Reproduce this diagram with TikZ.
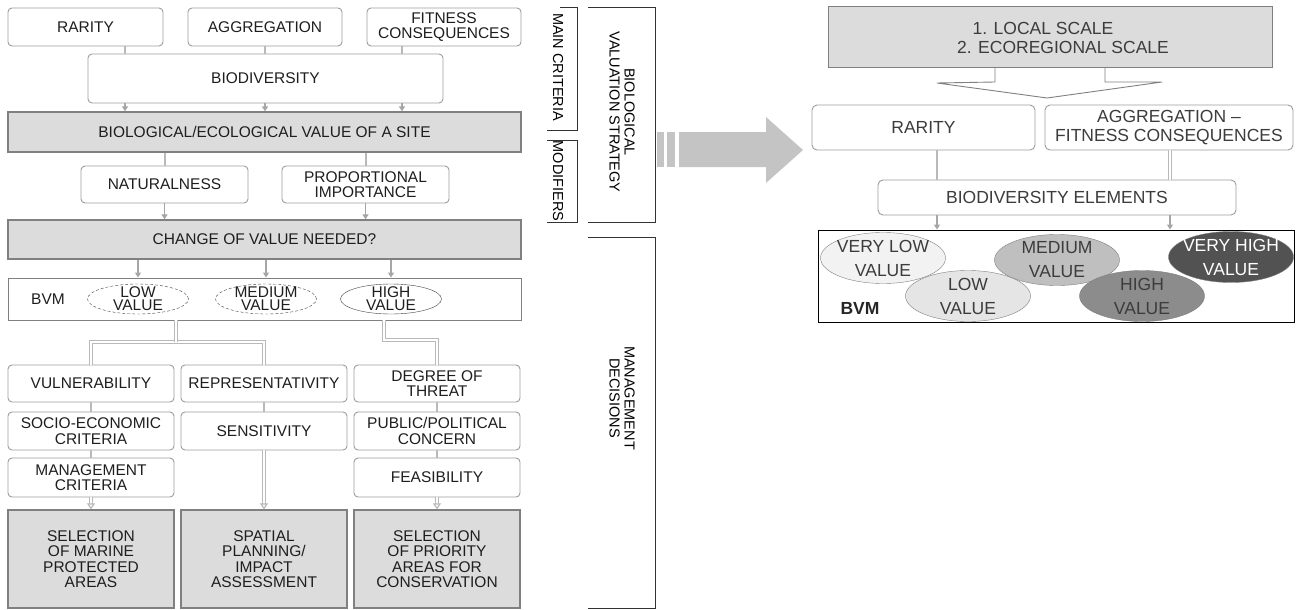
\documentclass[tikz,border=0pt]{standalone}
\usepackage{fontspec}
\setmainfont{Liberation Sans}
\usetikzlibrary{positioning,calc,arrows.meta,shapes.geometric}
\newcommand{\lpfont}{\fontsize{15.5}{15.5}\selectfont}
\newcommand{\elfont}{\fontsize{15.5}{13}\selectfont}
\newcommand{\rpfont}{\fontsize{17.5}{19}\selectfont}
\newcommand{\reffont}{\fontsize{17.5}{24}\selectfont}
\newcommand{\tagfont}{\fontsize{14.5}{15}\selectfont}
\definecolor{edge}{HTML}{9C9C9C}
\definecolor{panel}{HTML}{DCDCDC}
\definecolor{ink}{HTML}{1E1E1E}
\definecolor{rink}{HTML}{3C3C3C}
\definecolor{bigarrow}{HTML}{C4C4C4}
\tikzstyle{box} = [draw=edge, line width=0.9pt, rounded corners=4pt, fill=white, align=center, font=\lpfont, text=ink, inner sep=1pt]
\tikzstyle{gbox} = [draw=gray, line width=1.3pt, fill=panel, align=center, font=\lpfont, text=ink, inner sep=1pt]
\tikzstyle{bvmbox} = [draw=gray, line width=0.9pt, inner sep=0pt]
\tikzstyle{val} = [draw=black!75, ellipse, inner sep=0pt, minimum width=101, minimum height=30]
\tikzstyle{vtext} = [font=\elfont, text=ink, align=center]
\tikzstyle{rbox} = [draw=edge, line width=0.9pt, rounded corners=5pt, fill=white, align=center, font=\rpfont, text=rink, inner sep=1pt]
\tikzstyle{rval} = [draw=gray, ellipse, inner sep=0pt, minimum width=125, minimum height=51]
\tikzstyle{rtext} = [font=\reffont, text=rink, align=center]
\tikzstyle{flow} = [-{Triangle[width=6pt,length=5pt]}, draw=gray!70, line width=1.5pt]
\tikzstyle{stub} = [draw=gray!55, line width=2pt]
\tikzstyle{dbl} = [draw=gray!55, double=white, double distance=1.5pt, line width=1.2pt]
\tikzstyle{dblto} = [dbl, -{Triangle[open,width=8pt,length=6pt]}]
\tikzstyle{tag} = [rotate=-90, font=\tagfont, align=center]
\tikzstyle{brace} = [draw=black!80, line width=0.8pt]

\begin{document}
\begin{tikzpicture}[auto, x=1pt, y=-1pt]
\useasboundingbox (0,0) rectangle (1296,610);
% left panel
\node (rar) [box, minimum width=155, minimum height=38] at (85.5,27) {RARITY};
\node (agg) [box, minimum width=154, minimum height=38] at (265,27) {AGGREGATION};
\node (fit) [box, minimum width=154, minimum height=38] at (444,27) {FITNESS\\CONSEQUENCES};
\node (bio) [box, minimum width=355, minimum height=49] at (265.5,78.5) {BIODIVERSITY};
\node (val) [gbox, minimum width=513, minimum height=40] at (264.5,132) {BIOLOGICAL/ECOLOGICAL VALUE OF A SITE};
\node (nat) [box, minimum width=167, minimum height=37] at (164.5,184.5) {NATURALNESS};
\node (prop) [box, minimum width=167, minimum height=37] at (365.5,184.5) {PROPORTIONAL\\IMPORTANCE};
\node (chg) [gbox, minimum width=513, minimum height=39] at (264.5,239.5) {CHANGE OF VALUE NEEDED?};
\node (bvm) [bvmbox, minimum width=513, minimum height=42] at (264.5,299) {};
\node (bvmt) [font=\lpfont, text=ink] at (48,299) {BVM};
\node (low) [val, densely dashed, label={[vtext]center:{LOW\\VALUE}}] at (138,299) {};
\node (med) [val, densely dashed, label={[vtext]center:{MEDIUM\\VALUE}}] at (266,299) {};
\node (high) [val, label={[vtext]center:{HIGH\\VALUE}}] at (391,299) {};
\node (vul) [box, minimum width=166, minimum height=37] at (91,383.5) {VULNERABILITY};
\node (rep) [box, minimum width=166, minimum height=37] at (264,383.5) {REPRESENTATIVITY};
\node (deg) [box, minimum width=166, minimum height=37] at (437,383.5) {DEGREE OF\\THREAT};
\node (soc) [box, minimum width=166, minimum height=38] at (91,431) {SOCIO-ECONOMIC\\CRITERIA};
\node (sen) [box, minimum width=166, minimum height=38] at (264,431) {SENSITIVITY};
\node (pub) [box, minimum width=166, minimum height=38] at (437,431) {PUBLIC/POLITICAL\\CONCERN};
\node (man) [box, minimum width=166, minimum height=39] at (91,477.5) {MANAGEMENT\\CRITERIA};
\node (fea) [box, minimum width=166, minimum height=39] at (437,477.5) {FEASIBILITY};
\node (mpa) [gbox, minimum width=166, minimum height=98] at (91,559) {SELECTION\\OF MARINE\\PROTECTED\\AREAS};
\node (spa) [gbox, minimum width=166, minimum height=98] at (264,559) {SPATIAL\\PLANNING/\\IMPACT\\ASSESSMENT};
\node (pri) [gbox, minimum width=166, minimum height=98] at (437,559) {SELECTION\\OF PRIORITY\\AREAS FOR\\CONSERVATION};
\coordinate (k1) at (125,0);
\coordinate (k2) at (265,0);
\coordinate (k3) at (402,0);
\coordinate (j1) at (176,342);
\coordinate (j2) at (384,340);
\draw[stub] (rar.south -| k1) -- (bio.north -| k1);
\draw[stub] (agg.south -| k2) -- (bio.north -| k2);
\draw[stub] (fit.south -| k3) -- (bio.north -| k3);
\foreach \k in {k1,k2,k3} \draw[flow] (bio.south -| \k) -- (val.north -| \k);
\draw[stub] (val.south -| nat) -- (nat.north);
\draw[stub] (val.south -| prop) -- (prop.north);
\draw[flow] (nat) -- (nat |- chg.north);
\draw[flow] (prop) -- (prop |- chg.north);
\foreach \v in {low,med,high} \draw[flow] (chg.south -| \v) -- (bvm.north -| \v);
\draw[dbl] (vul.north) -- (vul.north |- j1) -- (rep.north |- j1) -- (rep.north);
\draw[dbl] (j1 |- bvm.south) -- (j1);
\draw[dbl] (j2 |- bvm.south) -- (j2) -- (deg.north |- j2) -- (deg.north);
\draw[stub] (vul) -- (soc);
\draw[stub] (soc) -- (man);
\draw[stub] (rep) -- (sen);
\draw[stub] (deg) -- (pub);
\draw[stub] (pub) -- (fea);
\draw[dblto] (man) -- (mpa);
\draw[dblto] (sen) -- (spa);
\draw[dblto] (fea) -- (pri);
% side brackets
\draw[brace] (560,7) -- (577,7) -- (577,130) -- (547,130);
\node (crit) [tag] at (558,67) {MAIN CRITERIA};
\draw[brace] (547,140) -- (577,140) -- (577,222) -- (547,222);
\node (modi) [tag] at (558,181) {MODIFIERS};
\draw[brace] (588,7) -- (655,7) -- (655,222) -- (588,222);
\node (bvs) [tag] at (622,112) {BIOLOGICAL\\VALUATION STRATEGY};
\draw[brace] (588,237) -- (655,237) -- (655,608) -- (588,608);
\node (mdec) [tag] at (622,398) {MANAGEMENT\\DECISIONS};
% big arrow
\fill[bigarrow] (657,132) rectangle (664,167);
\fill[bigarrow] (667,132) rectangle (675,167);
\fill[bigarrow] (679,132) -- (766,132) -- (766,117) -- (803,150) -- (766,183) -- (766,167) -- (679,167) -- cycle;
% right panel
\node (scale) [gbox, line width=1pt, font=\rpfont, text=rink, minimum width=444, minimum height=61] at (1050,37.5) {1. LOCAL SCALE\hspace*{14pt}\\\hspace*{26pt}2. ECOREGIONAL SCALE};
\draw[draw=gray, line width=0.9pt] (995,68) -- (995,82) -- (937,83) -- (1047,98) -- (1162,82) -- (1105,82) -- (1105,68);
\node (rrar) [rbox, minimum width=223, minimum height=45] at (923.5,127.5) {RARITY};
\node (ragg) [rbox, minimum width=248, minimum height=45] at (1169,127.5) {AGGREGATION --\\FITNESS CONSEQUENCES};
\node (rbio) [rbox, minimum width=358, minimum height=35] at (1057,197.5) {BIODIVERSITY ELEMENTS};
\node (rbvm) [bvmbox, draw=black, minimum width=476, minimum height=92] at (1056,276) {};
\coordinate (m1) at (937,0);
\coordinate (m2) at (1170,0);
\draw[stub] (rrar.south -| m1) -- (rbio.north -| m1);
\draw[dbl] (ragg.south -| m2) -- (rbio.north -| m2);
\foreach \m in {m1,m2} \draw[flow] (rbio.south -| \m) -- (rbvm.north -| \m);
\node (vlow) [rval, fill=black!5, label={[rtext]center:{VERY LOW\\VALUE}}] at (883,258) {};
\node (rlow) [rval, fill=black!10, label={[rtext]center:{LOW\\VALUE}}] at (968,296) {};
\node (rmed) [rval, fill=black!25, label={[rtext]center:{MEDIUM\\VALUE}}] at (1057,260) {};
\node (rhigh) [rval, fill=black!45, label={[rtext]center:{HIGH\\VALUE}}] at (1142,296) {};
\node (vhigh) [rval, fill=black!68, label={[rtext, text=white]center:{VERY HIGH\\VALUE}}] at (1231,257) {};
\node (rbvmt) [font=\rpfont\bfseries, text=black!85] at (860,308) {BVM};
\end{tikzpicture}
\end{document}
